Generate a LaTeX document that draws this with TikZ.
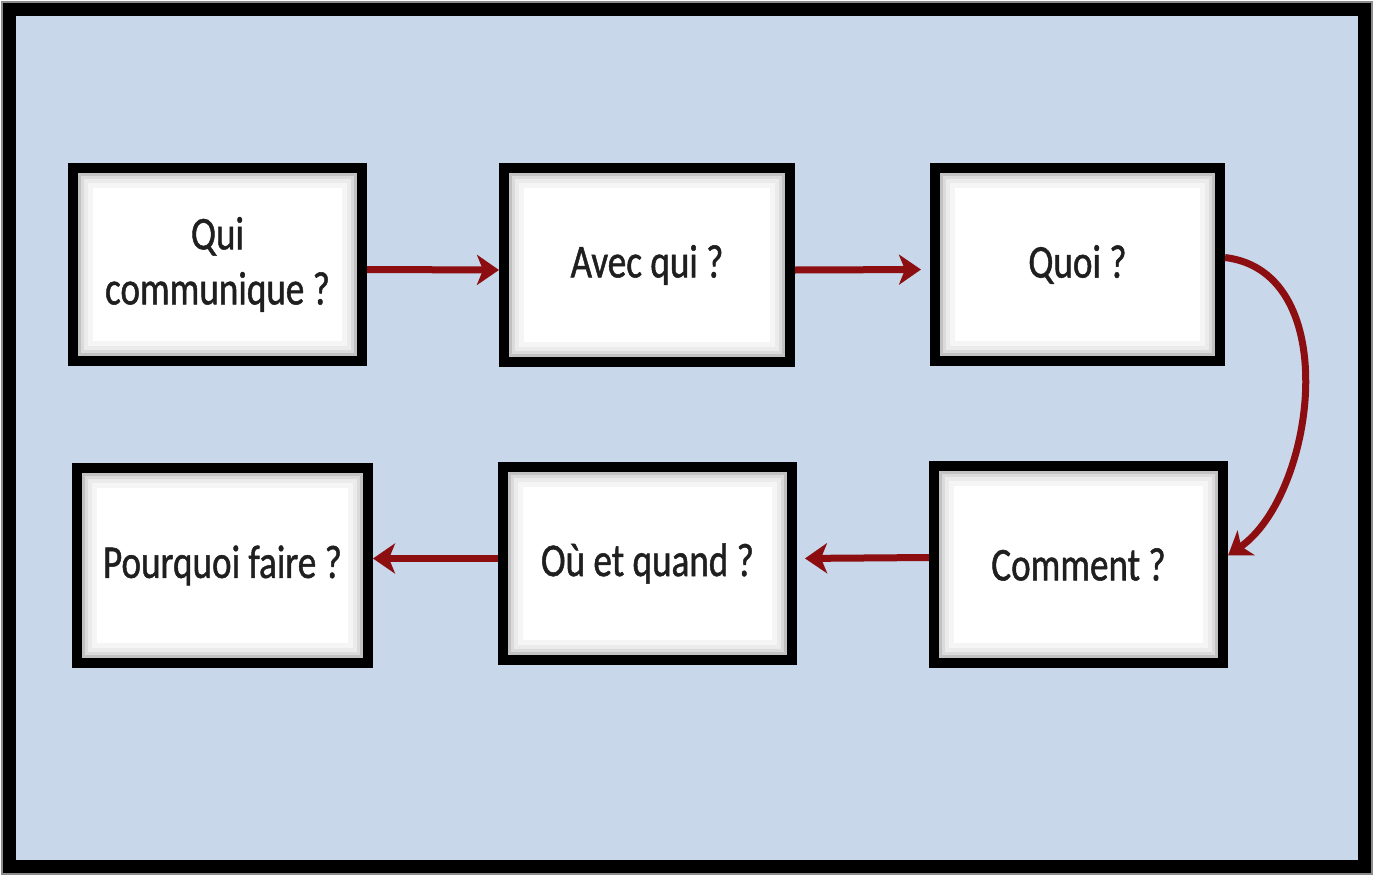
\documentclass[tikz,border=0pt]{standalone}
\usepackage{fontspec}
\setmainfont{Carlito}[FakeBold=1.2]
\usetikzlibrary{arrows.meta}
\definecolor{bgblue}{RGB}{200,216,234}
\definecolor{arrred}{RGB}{140,14,16}
\newcommand{\sq}[1]{\scalebox{0.79}[1]{#1}}
\tikzset{
  qbox/.style={draw=black, line width=10pt, fill=white, inner sep=0pt,
    align=center, font=\fontsize{47}{55}\selectfont, text=black!88,
    path picture={
      \foreach \w/\c in {40/4, 30/8, 22/14, 16/24}{
        \draw[line width=\w pt, black!\c]
          (path picture bounding box.south west) rectangle
          (path picture bounding box.north east);}
    }},
  conn/.style={draw=arrred, line width=7pt,
    -{Stealth[length=22pt,width=30pt,inset=6pt]}}
}
\begin{document}
\begin{tikzpicture}[x=1pt,y=-1pt]
\useasboundingbox (0,0) rectangle (1382,878);
\fill[white] (0,0) rectangle (1382,878);
% frame
\draw[black!45, line width=17pt] (9,9) rectangle (1364,866);
\draw[black, line width=13pt, fill=bgblue] (9,9) rectangle (1364,866);
% boxes
\node[qbox, minimum width=289pt, minimum height=193pt] (qui) at (217.5,264.5)
  {\sq{Qui}\\\sq{communique ?}};
\node[qbox, minimum width=286pt, minimum height=194pt] (avec) at (647,265)
  {\sq{Avec qui ?}};
\node[qbox, minimum width=285pt, minimum height=193pt] (quoi) at (1077.5,264.5)
  {\sq{Quoi ?}};
\node[qbox, minimum width=291pt, minimum height=195pt] (pourquoi) at (222.5,565.5)
  {\sq{Pourquoi faire ?}};
\node[qbox, minimum width=289pt, minimum height=193pt] (ou) at (647.5,563.5)
  {\sq{Où et quand ?}};
\node[qbox, minimum width=289pt, minimum height=197pt] (comment) at (1078.5,564.5)
  {\sq{Comment ?}};
% connectors
\draw[conn] ([yshift=-5pt]qui.east) -- ([yshift=-5pt]avec.west);
\draw[conn, shorten >=9pt] ([yshift=-5pt]avec.east) -- ([yshift=-5pt]quoi.west);
\coordinate (c1) at (1345,272);
\coordinate (c2) at (1315,495);
\draw[conn] ([yshift=7pt]quoi.east) .. controls (c1) and (c2) .. ([yshift=9pt]comment.east);
\draw[conn, shorten >=8pt] ([yshift=7pt]comment.west) -- ([yshift=5pt]ou.east);
\draw[conn] ([yshift=5pt]ou.west) -- ([yshift=7pt]pourquoi.east);
\end{tikzpicture}
\end{document}
